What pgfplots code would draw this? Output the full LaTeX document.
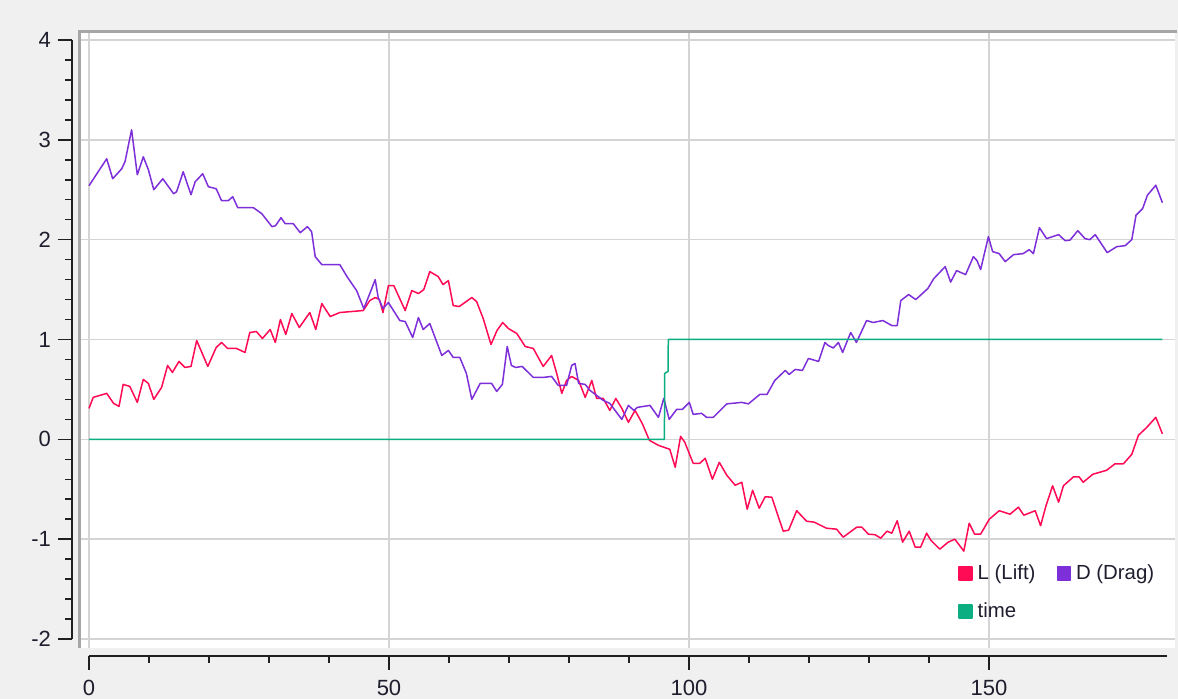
\documentclass[border=0pt]{standalone}
\usepackage{pgfplots}
\pgfplotsset{compat=1.18}
\usepackage{fontspec}
\setmainfont{Liberation Sans}
\definecolor{bgc}{HTML}{F0F0F0}
\definecolor{gridc}{HTML}{D4D4D4}
\definecolor{borderc}{HTML}{A6A6A6}
\definecolor{liftc}{HTML}{FF0A54}
\definecolor{dragc}{HTML}{7D2FD9}
\definecolor{timec}{HTML}{0AAE80}
\definecolor{txtc}{HTML}{1E1E2E}
\definecolor{tickc}{HTML}{202020}

\pgfplotstableread{
x y
0 2.54
2.95 2.81
3.95 2.61
5.45 2.71
6.0 2.78
7.1 3.10
8.05 2.65
9.05 2.83
9.9 2.70
10.8 2.50
12.3 2.61
14.1 2.46
14.6 2.48
15.7 2.68
17.0 2.45
17.7 2.58
18.95 2.66
19.9 2.53
21.2 2.51
22.1 2.39
23.2 2.39
23.95 2.43
24.8 2.32
27.4 2.32
28.8 2.26
30.5 2.13
31.1 2.14
32.0 2.22
32.7 2.16
34.05 2.16
35.2 2.07
36.4 2.13
37.1 2.08
37.7 1.83
38.8 1.75
41.8 1.75
43.0 1.63
44.6 1.49
45.8 1.31
46.8 1.46
47.7 1.60
48.2 1.42
49.0 1.31
49.9 1.37
51.8 1.19
52.7 1.18
53.95 1.02
54.9 1.22
55.7 1.10
56.8 1.16
58.8 0.84
59.9 0.89
60.7 0.82
61.8 0.82
62.9 0.66
63.8 0.40
65.2 0.56
67.1 0.56
67.95 0.48
68.9 0.55
69.7 0.93
70.4 0.74
71.1 0.72
72.2 0.73
74.05 0.62
75.7 0.62
77.1 0.63
78.2 0.54
79.6 0.54
80.45 0.74
81.0 0.76
81.6 0.56
82.7 0.55
83.5 0.49
85.7 0.39
86.8 0.36
88.8 0.20
89.9 0.34
90.8 0.29
91.4 0.32
93.5 0.34
94.9 0.22
95.8 0.41
96.7 0.20
97.95 0.30
98.9 0.30
100.05 0.37
100.7 0.25
102.1 0.26
102.95 0.22
104.05 0.22
106.3 0.355
108.8 0.37
109.9 0.355
111.8 0.45
113.0 0.45
114.3 0.59
116.05 0.69
116.7 0.65
117.7 0.70
118.9 0.69
119.9 0.81
121.6 0.78
122.65 0.97
123.2 0.94
124.05 0.915
124.9 0.97
125.6 0.87
126.95 1.07
127.9 0.97
129.6 1.19
130.7 1.17
132.3 1.19
133.8 1.14
134.7 1.14
135.3 1.39
136.6 1.45
137.8 1.40
139.8 1.51
140.8 1.61
142.7 1.73
143.6 1.575
144.6 1.69
146.1 1.65
147.4 1.83
148.0 1.79
148.6 1.70
149.9 2.03
150.6 1.88
151.7 1.86
152.7 1.78
154.1 1.85
155.7 1.86
156.7 1.90
157.4 1.86
158.4 2.12
159.6 2.01
161.6 2.05
162.7 1.99
163.5 1.995
164.8 2.09
166.0 2.01
166.8 2.00
167.7 2.05
169.7 1.87
171.3 1.93
172.7 1.94
173.8 2.00
174.5 2.245
175.6 2.31
176.4 2.445
177.8 2.545
178.9 2.37
}\dragtable

\pgfplotstableread{
x y
0 0.31
0.7 0.42
1.8 0.44
2.95 0.46
4.1 0.36
5.0 0.33
5.7 0.55
6.8 0.53
8.05 0.37
9.05 0.60
9.9 0.56
10.8 0.40
12.1 0.52
13.1 0.74
13.9 0.67
15.0 0.78
16.0 0.72
17.0 0.73
17.95 0.99
19.8 0.73
21.2 0.92
22.1 0.97
23.1 0.91
24.6 0.91
26.0 0.87
26.8 1.07
27.9 1.08
28.9 1.01
30.2 1.10
31.05 0.97
31.9 1.20
32.8 1.05
33.8 1.26
35.05 1.12
36.8 1.27
37.8 1.10
38.8 1.36
40.2 1.23
41.8 1.27
45.7 1.29
46.8 1.39
47.7 1.42
48.4 1.40
49.0 1.27
49.9 1.54
50.8 1.54
52.7 1.29
53.8 1.49
54.9 1.46
55.8 1.50
56.8 1.68
58.2 1.63
59.0 1.55
59.9 1.59
60.7 1.34
61.7 1.33
63.8 1.42
64.6 1.38
65.7 1.21
67.0 0.95
68.0 1.09
68.95 1.17
69.9 1.11
71.3 1.06
72.7 0.93
74.05 0.91
75.7 0.73
77.1 0.84
77.95 0.66
78.8 0.46
79.6 0.59
80.45 0.63
81.6 0.59
82.7 0.42
83.8 0.59
84.6 0.41
85.7 0.41
86.8 0.29
87.8 0.41
88.8 0.31
89.9 0.17
91.0 0.29
92.2 0.16
93.4 -0.01
94.9 -0.06
96.8 -0.10
97.7 -0.28
98.6 0.03
99.3 -0.03
100.7 -0.24
101.8 -0.24
102.7 -0.19
103.9 -0.40
105.05 -0.23
106.3 -0.36
107.7 -0.46
108.8 -0.43
109.7 -0.70
110.6 -0.51
111.7 -0.69
112.7 -0.575
113.8 -0.58
115.7 -0.92
116.6 -0.91
117.95 -0.715
119.6 -0.82
120.9 -0.83
122.9 -0.89
124.6 -0.90
125.7 -0.98
127.95 -0.88
128.8 -0.88
129.9 -0.95
131.0 -0.955
131.95 -0.99
133.0 -0.92
133.8 -0.94
134.7 -0.815
135.6 -1.03
136.7 -0.92
137.7 -1.08
138.6 -1.08
139.6 -0.94
140.3 -1.01
141.8 -1.10
143.2 -1.03
144.3 -1.00
145.8 -1.12
146.7 -0.84
147.6 -0.95
148.6 -0.95
150.05 -0.80
151.7 -0.715
153.5 -0.75
154.9 -0.68
155.8 -0.76
157.7 -0.715
158.6 -0.865
159.5 -0.665
160.6 -0.465
161.6 -0.63
162.4 -0.465
164.1 -0.375
165.0 -0.375
165.7 -0.43
167.3 -0.35
169.6 -0.31
171.0 -0.245
172.4 -0.245
173.8 -0.15
174.9 0.04
176.3 0.12
177.8 0.22
178.9 0.055
}\lifttable

\pgfplotstableread{
x y
0 0
95.9 0
95.95 0.66
96.5 0.68
96.55 1
178.9 1
}\timetable

\begin{document}
\begin{tikzpicture}
\useasboundingbox (0,0) rectangle (589pt,349.5pt);
\fill[bgc] (0,0) rectangle (589pt,349.5pt);
\begin{axis}[
  at={(39pt,25.5pt)}, anchor=south west,
  scale only axis, width=548.5pt, height=309pt,
  xmin=-1.833, xmax=181, ymin=-2.09, ymax=4.10,
  axis background/.style={fill=white},
  axis line style={draw=none},
  xtick={0,50,100,150}, ytick={-2,-1,0,1,2,3,4},
  xticklabels={}, yticklabels={},
  tick style={draw=none},
  grid=major, grid style={gridc, line width=0.8pt},
  clip=false,
  legend columns=2,
  legend cell align=left,
  legend image code/.code={\fill[#1] (0pt,-3.25pt) rectangle (6.5pt,3.25pt); \path (7pt,0pt);},
  legend style={draw=none, fill=none, at={(0.802,0.142)}, anchor=north west,
    font=\fontsize{10.2}{12}\selectfont, text=txtc, inner sep=0pt, row sep=6pt,
    /tikz/every even column/.append style={column sep=8.5pt}},
]
\addplot[color=liftc, line width=0.75pt, line join=round] table[x=x,y=y] {\lifttable};
\addlegendentry{L (Lift)}
\addplot[color=dragc, line width=0.75pt, line join=round] table[x=x,y=y] {\dragtable};
\addlegendentry{D (Drag)}
\addplot[color=timec, line width=0.75pt, line join=round] table[x=x,y=y] {\timetable};
\addlegendentry{time}
\draw[borderc, line width=1.5pt] ([xshift=0.75pt]rel axis cs:0,0) -- ([xshift=0.75pt,yshift=-0.75pt]rel axis cs:0,1) -- ([xshift=1pt,yshift=-0.75pt]rel axis cs:1,1);
\end{axis}
\begin{axis}[
  at={(44.5pt,30pt)}, anchor=south west,
  scale only axis, width=538.8pt, height=299.5pt,
  xmin=0, xmax=179.6, ymin=-2, ymax=4,
  axis x line=bottom, axis y line=left,
  axis x line shift=8.5pt, axis y line shift=8.5pt,
  axis line style={-, line width=0.75pt, color=tickc},
  tick align=outside,
  xtick={0,50,100,150}, ytick={-2,-1,0,1,2,3,4},
  minor x tick num=4, minor y tick num=4,
  major tick length=7pt, minor tick length=3.5pt,
  tick style={line width=0.75pt, color=tickc},
  ticklabel style={font=\fontsize{11}{13}\selectfont, text=txtc},
  xticklabel style={yshift=-1.5pt},
  /pgf/number format/assume math mode=true,
]
\addplot[draw=none] coordinates {(0,0)};
\end{axis}
\end{tikzpicture}
\end{document}
